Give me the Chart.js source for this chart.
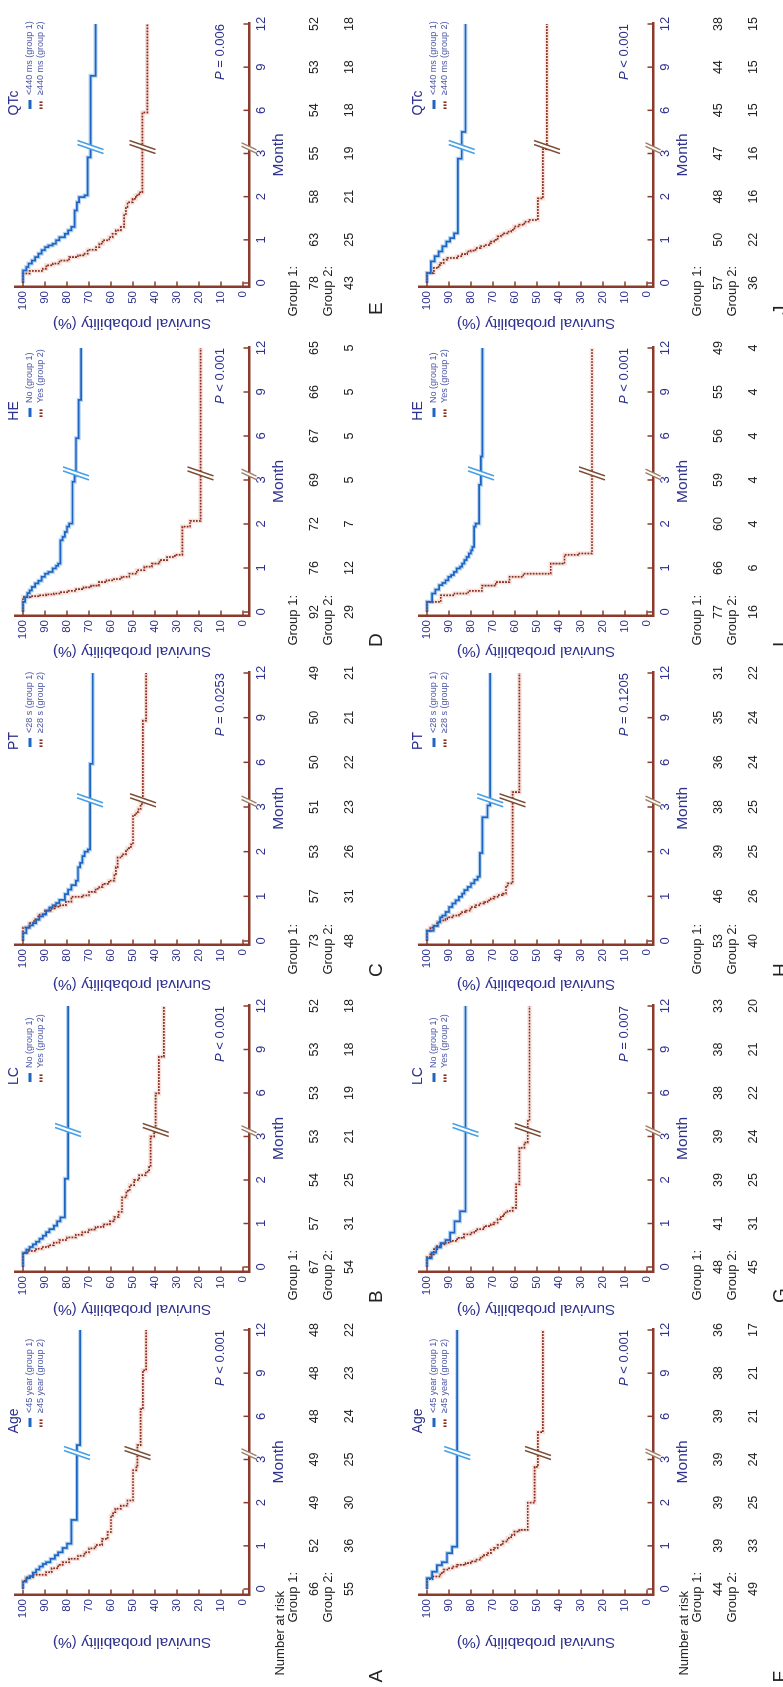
<!DOCTYPE html>
<html>
<head>
<meta charset="utf-8">
<script src="https://cdn.jsdelivr.net/npm/chart.js@4.4.1/dist/chart.umd.min.js"></script>
<style>
  html, body { margin: 0; padding: 0; background: #fff; overflow: hidden; }
  /* the figure is laid out upright, then turned a quarter turn to the left */
  #page {
    position: absolute; left: 0; top: 0;
    width: 1687px; height: 783px;
    transform-origin: 0 0;
    transform: translate(0, 1687px) rotate(-90deg);
  }
  #page canvas { position: absolute; }
</style>
</head>
<body>
<div id="page"></div>
<script>
// ---- data ----
const monthTicks = [0, 1, 2, 3, 6, 9, 12];
const survivalTicks = [0, 10, 20, 30, 40, 50, 60, 70, 80, 90, 100];

const factorNames = ['Age', 'LC', 'PT', 'HE', 'QTc'];
const group1Names = ['<45 year (group 1)', 'No (group 1)', '<28 s (group 1)', 'No (group 1)', '<440 ms (group 1)'];
const group2Names = ['\u226545 year (group 2)', 'Yes (group 2)', '\u226528 s (group 2)', 'Yes (group 2)', '\u2265440 ms (group 2)'];
const panelLetters = ['A', 'B', 'C', 'D', 'E', 'F', 'G', 'H', 'I', 'J'];
const pValues = ['< 0.001', '< 0.001', '= 0.0253', '< 0.001', '= 0.006',
                 '< 0.001', '= 0.007', '= 0.1205', '< 0.001', '< 0.001'];

// number at risk at 0,1,2,3,6,9,12 months
const riskA1 = [66, 52, 49, 49, 48, 48, 48], riskA2 = [55, 36, 30, 25, 24, 23, 22];
const riskB1 = [67, 57, 54, 53, 53, 53, 52], riskB2 = [54, 31, 25, 21, 19, 18, 18];
const riskC1 = [73, 57, 53, 51, 50, 50, 49], riskC2 = [48, 31, 26, 23, 22, 21, 21];
const riskD1 = [92, 76, 72, 69, 67, 66, 65], riskD2 = [29, 12, 7, 5, 5, 5, 5];
const riskE1 = [78, 63, 58, 55, 54, 53, 52], riskE2 = [43, 25, 21, 19, 18, 18, 18];
const riskF1 = [44, 39, 39, 39, 39, 38, 36], riskF2 = [49, 33, 25, 24, 21, 21, 17];
const riskG1 = [48, 41, 39, 39, 38, 38, 33], riskG2 = [45, 31, 25, 24, 22, 21, 20];
const riskH1 = [53, 46, 39, 38, 36, 35, 31], riskH2 = [40, 26, 25, 25, 24, 24, 22];
const riskI1 = [77, 66, 60, 59, 56, 55, 49], riskI2 = [16, 6, 4, 4, 4, 4, 4];
const riskJ1 = [57, 50, 48, 47, 45, 44, 38], riskJ2 = [36, 22, 16, 16, 15, 15, 15];

// survival curves: [month, survival %] at each step
const curveA1 = [[0,100],[0.17,98.5],[0.25,97],[0.3,95.5],[0.38,94],[0.45,92.5],[0.52,91],[0.58,89.5],[0.62,87.5],[0.7,85.5],[0.78,84],[0.85,82],[0.95,80],[1.05,78],[1.6,75.5],[4.0,74],[12,74]];
const curveA2 = [[0,100],[0.19,98.5],[0.27,95.5],[0.33,89.5],[0.39,87],[0.48,84],[0.56,82],[0.62,79],[0.7,75],[0.77,72],[0.85,70],[0.94,67],[1.02,64],[1.16,61.5],[1.32,60],[1.7,59],[1.78,58],[1.86,55.5],[1.93,52.5],[2.05,50],[2.75,48.5],[2.86,48],[4.0,46.5],[6.5,45.5],[9.2,44],[12,44]];
const curveB1 = [[0,100],[0.32,98.5],[0.4,97],[0.46,95.5],[0.52,94],[0.58,92.5],[0.65,91],[0.72,89.5],[0.8,88],[0.87,86],[0.95,84.5],[1.05,83],[1.14,81],[2.03,79.5],[12,79.5]];
const curveB2 = [[0,100],[0.33,97.5],[0.37,94],[0.42,91],[0.46,88.5],[0.5,86],[0.56,83.5],[0.62,80],[0.68,76],[0.74,73],[0.8,70],[0.86,67],[0.92,63.5],[0.98,60.5],[1.05,58.5],[1.15,56.5],[1.27,55],[1.6,53],[1.75,51.5],[1.88,49.5],[2.0,47.2],[2.11,44.2],[2.19,42.7],[2.3,42],[3.0,40.4],[3.3,39.7],[5.97,38.2],[8.5,36],[12,36]];
const curveC1 = [[0,100],[0.18,98.5],[0.3,97],[0.35,95.5],[0.4,94],[0.48,92.5],[0.55,91],[0.6,89.5],[0.68,88],[0.75,86.5],[0.8,85],[0.85,83.5],[0.92,81],[1.05,79.5],[1.15,78],[1.25,76],[1.35,75],[1.65,74],[1.75,73],[1.9,72],[2.0,70.5],[2.05,69.5],[5.9,68.3],[12,68.3]];
const curveC2 = [[0,100],[0.3,97],[0.4,95],[0.48,93],[0.59,90],[0.68,87],[0.73,85.5],[0.77,83],[0.8,80.5],[0.88,78],[0.99,73],[1.02,70],[1.1,67],[1.17,65.3],[1.21,63.8],[1.28,61],[1.35,58.5],[1.5,57.8],[1.65,57],[1.87,55],[1.94,53.2],[2.01,52.5],[2.08,51],[2.16,50],[2.82,48.5],[2.89,47.5],[2.96,46.5],[3.2,45.5],[8.8,44],[12,44]];
const curveD1 = [[0,100],[0.23,99],[0.34,98],[0.43,97],[0.49,96],[0.57,94.5],[0.65,93],[0.71,91.5],[0.8,90],[0.87,88.5],[0.91,86.5],[0.99,85],[1.05,84],[1.1,83],[1.63,82],[1.71,81],[1.82,80],[1.94,79],[2.01,77.5],[2.96,76.5],[3.3,75.9],[5.85,74.7],[8.46,73.6],[12,73.6]];
const curveD2 = [[0,100],[0.34,96.5],[0.36,93],[0.38,89.5],[0.4,86],[0.42,82.8],[0.45,79.3],[0.48,75.9],[0.52,72.4],[0.56,69],[0.6,65.5],[0.68,62],[0.72,58.6],[0.75,55.2],[0.8,51.7],[0.87,48.3],[0.95,44.8],[1.03,41.4],[1.1,37.9],[1.18,34.5],[1.25,31],[1.3,27.6],[1.94,24.1],[2.07,19.3],[12,19.3]];
const curveE1 = [[0,100],[0.29,98.5],[0.37,97.5],[0.45,96],[0.52,94.5],[0.6,93],[0.68,91.5],[0.76,90],[0.83,88.5],[0.87,86.5],[0.91,85],[0.99,83.5],[1.06,81],[1.14,79.5],[1.22,78],[1.3,76.5],[1.68,75.5],[1.87,74.5],[1.99,72],[2.03,70.6],[2.91,69.3],[8.4,67],[12,67]];
const curveE2 = [[0,100],[0.22,97],[0.28,91],[0.33,89.4],[0.41,86.4],[0.45,83.4],[0.52,79],[0.6,75],[0.64,72],[0.68,70.6],[0.77,66.8],[0.83,65.3],[0.91,63.8],[0.99,60.8],[1.06,59.3],[1.14,57.8],[1.22,55.5],[1.3,54],[1.6,53.2],[1.76,52.5],[1.87,50.2],[1.95,48.7],[2.03,47.2],[2.1,45.7],[5.85,43.5],[12,43.5]];
const curveF1 = [[0,100],[0.25,97.7],[0.4,95.5],[0.55,93.2],[0.62,90.9],[0.83,88.6],[0.98,86.3],[12,86.3]];
const curveF2 = [[0,100],[0.23,97.5],[0.29,93.9],[0.37,92.4],[0.45,90],[0.48,88.5],[0.52,86.3],[0.56,82.4],[0.6,80.2],[0.64,77.9],[0.68,75.6],[0.75,74],[0.79,72.5],[0.83,71],[0.91,69.5],[0.95,67.9],[1.02,65.6],[1.1,63.4],[1.18,61.8],[1.25,60.3],[1.33,58],[1.37,54.2],[2.0,51.1],[2.83,49.6],[4.9,47.3],[12,47.3]];
const curveG1 = [[0,100],[0.2,97.9],[0.33,95.8],[0.45,93.7],[0.55,91.6],[0.62,89.5],[0.79,87.5],[1.05,85],[1.28,82.5],[12,82.5]];
const curveG2 = [[0,100],[0.23,98.5],[0.29,96.9],[0.41,95.4],[0.48,93.9],[0.52,91.6],[0.56,89.3],[0.6,86.3],[0.67,83.2],[0.75,80.2],[0.79,78.6],[0.83,77.1],[0.87,74],[0.94,71],[0.98,69.5],[1.02,67.9],[1.1,66.4],[1.17,64.9],[1.25,63.4],[1.29,61.1],[1.36,59.5],[1.9,58],[2.74,55.7],[2.86,54.2],[4.07,53.4],[12,53.4]];
const curveH1 = [[0,100],[0.23,97],[0.34,95],[0.42,94],[0.53,93],[0.57,91.5],[0.65,90],[0.76,88.5],[0.84,87],[0.91,85.5],[0.99,84],[1.06,83],[1.14,81.5],[1.21,80],[1.29,78.5],[1.37,77],[1.44,76],[1.97,74.8],[2.77,72.5],[3.1,71.3],[12,71.3]];
const curveH2 = [[0,100],[0.23,98.5],[0.3,96.9],[0.34,95.4],[0.42,93.9],[0.46,91.6],[0.49,90.8],[0.53,88.5],[0.57,85.5],[0.61,84],[0.65,82.4],[0.68,80.2],[0.76,77.9],[0.8,76.3],[0.84,74],[0.87,72.5],[0.91,71],[0.95,69.5],[0.99,67.9],[1.03,65.6],[1.06,64.1],[1.21,63.4],[1.29,61.1],[4.0,58],[12,58]];
const curveI1 = [[0,100],[0.23,97.7],[0.42,96.2],[0.51,94.5],[0.61,93],[0.66,91.6],[0.72,90.3],[0.8,89],[0.84,87.8],[0.91,86.5],[0.99,85],[1.03,84],[1.1,83],[1.18,82],[1.25,81],[1.33,80],[1.4,79.4],[1.48,78.6],[1.94,77.9],[2.01,76.3],[2.89,75.5],[4.6,74.8],[12,74.8]];
const curveI2 = [[0,100],[0.23,93.75],[0.38,87.5],[0.42,81.25],[0.48,75],[0.6,68.75],[0.68,62.5],[0.8,56.25],[0.87,43.75],[1.1,37.5],[1.3,31.25],[1.33,25],[12,25]];
const curveJ1 = [[0,100],[0.23,98.2],[0.5,96.5],[0.62,94.7],[0.73,93],[0.85,91.2],[0.96,89.5],[1.04,87.7],[1.15,86],[2.88,84.2],[4.5,82.5],[12,82.5]];
const curveJ2 = [[0,100],[0.23,96.9],[0.35,94.7],[0.42,93.9],[0.46,92.4],[0.54,90.8],[0.58,86.3],[0.62,84],[0.67,81.7],[0.73,80.2],[0.75,77.9],[0.81,75.6],[0.85,73.3],[0.88,71.8],[0.92,71],[0.96,69.5],[1.0,67.9],[1.08,66.4],[1.12,64.9],[1.15,63.4],[1.19,61.8],[1.23,60.3],[1.31,58],[1.35,55.7],[1.42,53.4],[1.46,49.6],[1.96,47.3],[3.3,45.5],[12,45.5]];

const group1Curves = [curveA1, curveB1, curveC1, curveD1, curveE1, curveF1, curveG1, curveH1, curveI1, curveJ1];
const group2Curves = [curveA2, curveB2, curveC2, curveD2, curveE2, curveF2, curveG2, curveH2, curveI2, curveJ2];
const group1Risk = [riskA1, riskB1, riskC1, riskD1, riskE1, riskF1, riskG1, riskH1, riskI1, riskJ1];
const group2Risk = [riskA2, riskB2, riskC2, riskD2, riskE2, riskF2, riskG2, riskH2, riskI2, riskJ2];

// ---- layout (upright figure coordinates) ----
const FONT = '"Liberation Sans", Arial, Helvetica, sans-serif';
const NAVY = '#2e318e';
const AXIS = '#8b3a2b';
const BLUE = '#1f64c0';
const BLUE_HALO = 'rgba(110,172,232,0.5)';
const BROWN = '#8a2b1b';
const BROWN_HALO = 'rgba(222,140,118,0.24)';

const cols = [
  { m0: 97.5, m12: 356.5, yAxis: 91.5, yTitle: 44,   legendDx: 162, letterU: 4 },
  { m0: 420,  m12: 681,   yAxis: 415,  yTitle: 378,  legendDx: 185, letterU: 384 },
  { m0: 746,  m12: 1014,  yAxis: 742,  yTitle: 703,  legendDx: 194, letterU: 710 },
  { m0: 1075, m12: 1339,  yAxis: 1071, yTitle: 1036, legendDx: 195, letterU: 1040 },
  { m0: 1404, m12: 1663,  yAxis: 1400, yTitle: 1364, legendDx: 174, letterU: 1372 }
];
const rowTop = [0, 404];
const CANVAS_H = 383;
const V = { top: 15, axis: 249, p100: 23, p0: 243, monthTitle: 279,
            riskHead: 280, g1Label: 293, g1: 315, g2Label: 328, g2: 350,
            letter: 377, legTitle: 14, leg1: 30, leg2: 41, pval: 220 };
const BREAK_T = 3.15;

// broken month axis: 0-3 at one unit per month, 3-12 at one unit per 3 months
const tr = m => (m <= 3 ? m : 3 + (m - 3) / 3);
const untr = t => (t <= 3 ? t : 3 + (t - 3) * 3);
const survAt = (curve, m) => { let s = curve[0][1]; for (const [t, v] of curve) if (t <= m) s = v; return s; };
const toXY = curve => curve.map(([m, s]) => ({ x: tr(m), y: s }));

function breakMark(ctx, x, y, color, dx, dy, gap, lw) {
  ctx.save();
  ctx.fillStyle = '#fff';
  ctx.beginPath();
  ctx.moveTo(x - gap / 2 - dx, y + dy);
  ctx.lineTo(x - gap / 2 + dx, y - dy);
  ctx.lineTo(x + gap / 2 + dx, y - dy);
  ctx.lineTo(x + gap / 2 - dx, y + dy);
  ctx.closePath();
  ctx.fill();
  ctx.strokeStyle = color;
  ctx.lineWidth = lw;
  for (const s of [-gap / 2, gap / 2]) {
    ctx.beginPath();
    ctx.moveTo(x + s - dx, y + dy);
    ctx.lineTo(x + s + dx, y - dy);
    ctx.stroke();
  }
  ctx.restore();
}

function makePanel(i) {
  const col = cols[i % 5];
  const row = i < 5 ? 0 : 1;
  const cl = col.m0 - 95;
  const W = Math.round(col.m12 - cl + 32);
  const unit = (col.m12 - col.m0) / 6;
  const xMin = (col.yAxis - col.m0) / unit;
  const xMax = 6.03;
  const chartLeft = col.yAxis - cl;
  const chartRight = col.m0 + xMax * unit - cl;
  const pxPct = (V.p0 - V.p100) / 100;
  const yMax = 100 + (V.p100 - V.top) / pxPct;
  const yMin = -(V.axis - V.p0) / pxPct;
  const titleHalf = 15.5 * 1.2 / 2;
  const padLeft = (col.yTitle - cl) - titleHalf;
  const xAxisH = V.monthTitle + titleHalf - V.axis;

  const canvas = document.createElement('canvas');
  canvas.width = W;
  canvas.height = CANVAS_H;
  canvas.style.left = cl + 'px';
  canvas.style.top = rowTop[row] + 'px';
  document.getElementById('page').appendChild(canvas);

  const g1 = group1Curves[i], g2 = group2Curves[i];
  const f = i % 5;

  const decor = {
    id: 'kmDecor' + i,
    afterDatasetsDraw(chart) {
      const { ctx, chartArea } = chart;
      const xs = chart.scales.x, ys = chart.scales.y;
      const bx = xs.getPixelForValue(BREAK_T);
      const bm = untr(BREAK_T);
      breakMark(ctx, bx, ys.getPixelForValue(survAt(g2, bm)), '#7a4c34', 4.5, 13, 4, 1.5);
      breakMark(ctx, bx, ys.getPixelForValue(survAt(g1, bm)), '#45a0e6', 4.5, 13, 4, 1.6);
      breakMark(ctx, bx - 1, chartArea.bottom, '#9c7b63', 3.5, 7.5, 3.5, 1.4);
    },
    afterDraw(chart) {
      const { ctx, chartArea } = chart;
      const xs = chart.scales.x, ys = chart.scales.y;
      ctx.save();
      // inward tick marks
      ctx.strokeStyle = AXIS;
      ctx.lineWidth = 1.5;
      for (const m of monthTicks) {
        const x = xs.getPixelForValue(tr(m));
        ctx.beginPath(); ctx.moveTo(x, chartArea.bottom); ctx.lineTo(x, chartArea.bottom - 5.5); ctx.stroke();
      }
      for (const s of survivalTicks) {
        const y = ys.getPixelForValue(s);
        ctx.beginPath(); ctx.moveTo(chartArea.left, y); ctx.lineTo(chartArea.left + 5.5, y); ctx.stroke();
      }

      // legend
      const lx = xs.getPixelForValue(0) + col.legendDx;
      ctx.fillStyle = NAVY;
      ctx.font = '14px ' + FONT;
      ctx.textAlign = 'center';
      ctx.textBaseline = 'middle';
      ctx.fillText(factorNames[f], lx + 6, V.legTitle);
      ctx.lineWidth = 3;
      ctx.strokeStyle = BLUE;
      ctx.beginPath(); ctx.moveTo(lx, V.leg1); ctx.lineTo(lx + 9, V.leg1); ctx.stroke();
      ctx.strokeStyle = BROWN;
      ctx.setLineDash([1.6, 1.4]);
      ctx.beginPath(); ctx.moveTo(lx, V.leg2); ctx.lineTo(lx + 9, V.leg2); ctx.stroke();
      ctx.setLineDash([]);
      ctx.fillStyle = '#4a55a6';
      ctx.font = '9px ' + FONT;
      ctx.textAlign = 'left';
      ctx.fillText(group1Names[f], lx + 14, V.leg1);
      ctx.fillText(group2Names[f], lx + 14, V.leg2);

      // P value, right aligned on the 12 month tick
      const px = xs.getPixelForValue(tr(12));
      ctx.fillStyle = NAVY;
      ctx.textAlign = 'right';
      ctx.font = '13px ' + FONT;
      const rest = ' ' + pValues[i];
      ctx.fillText(rest, px, V.pval);
      const wRest = ctx.measureText(rest).width;
      ctx.font = 'italic 13px ' + FONT;
      ctx.fillText('P', px - wRest, V.pval);

      // number at risk table
      const x0 = xs.getPixelForValue(0);
      ctx.fillStyle = '#222';
      ctx.font = '13px ' + FONT;
      ctx.textAlign = 'right';
      if (i % 5 === 0) ctx.fillText('Number at risk', x0 - 2, V.riskHead);
      ctx.fillText('Group 1:', x0 + 17, V.g1Label);
      ctx.fillText('Group 2:', x0 + 17, V.g2Label);
      ctx.textAlign = 'center';
      ctx.font = '12.5px ' + FONT;
      monthTicks.forEach((m, k) => {
        const x = xs.getPixelForValue(tr(m));
        ctx.fillText(String(group1Risk[i][k]), x, V.g1);
        ctx.fillText(String(group2Risk[i][k]), x, V.g2);
      });

      // panel letter
      ctx.font = '19px ' + FONT;
      ctx.textAlign = 'left';
      ctx.fillStyle = '#222';
      ctx.fillText(panelLetters[i], col.letterU - cl, V.letter);
      ctx.restore();
    }
  };

  new Chart(canvas, {
    type: 'line',
    data: {
      datasets: [
        { data: toXY(g1), borderColor: BLUE, borderWidth: 1.7, stepped: true },
        { data: toXY(g2), borderColor: BROWN, borderWidth: 1.7, borderDash: [1.8, 1.2], stepped: true },
        { data: toXY(g1), borderColor: BLUE_HALO, borderWidth: 4, stepped: true },
        { data: toXY(g2), borderColor: BROWN_HALO, borderWidth: 4.5, stepped: true }
      ]
    },
    options: {
      responsive: false,
      animation: false,
      devicePixelRatio: 1,
      events: [],
      elements: { point: { radius: 0 }, line: { tension: 0, borderCapStyle: 'butt' } },
      layout: {
        autoPadding: false,
        padding: { left: padLeft, top: V.top, right: W - chartRight, bottom: CANVAS_H - V.axis - xAxisH }
      },
      plugins: { legend: { display: false }, tooltip: { enabled: false } },
      scales: {
        x: {
          type: 'linear',
          min: xMin,
          max: xMax,
          afterBuildTicks: s => { s.ticks = monthTicks.map(m => ({ value: tr(m) })); },
          afterFit: s => { s.height = xAxisH; },
          grid: { display: false, drawTicks: false },
          border: { color: AXIS, width: 2.5 },
          ticks: {
            autoSkip: false, maxRotation: 0, padding: 5, color: NAVY,
            font: { size: 13, family: FONT },
            callback: v => { const k = monthTicks.findIndex(m => Math.abs(tr(m) - v) < 1e-6); return k < 0 ? '' : String(monthTicks[k]); }
          },
          title: { display: true, text: 'Month', color: NAVY, font: { size: 15.5, family: FONT }, padding: 0 }
        },
        y: {
          type: 'linear',
          min: yMin,
          max: yMax,
          afterBuildTicks: s => { s.ticks = survivalTicks.map(v => ({ value: v })); },
          afterFit: s => { s.width = chartLeft - padLeft; },
          grid: { display: false, drawTicks: false },
          border: { color: AXIS, width: 2.5 },
          ticks: { padding: 4, color: NAVY, font: { size: 11.5, family: FONT } },
          title: { display: true, text: 'Survival probability (%)', color: NAVY, font: { size: 15.5, family: FONT }, padding: 0 }
        }
      }
    },
    plugins: [decor]
  });
}

for (let i = 0; i < 10; i++) makePanel(i);
</script>
</body>
</html>
